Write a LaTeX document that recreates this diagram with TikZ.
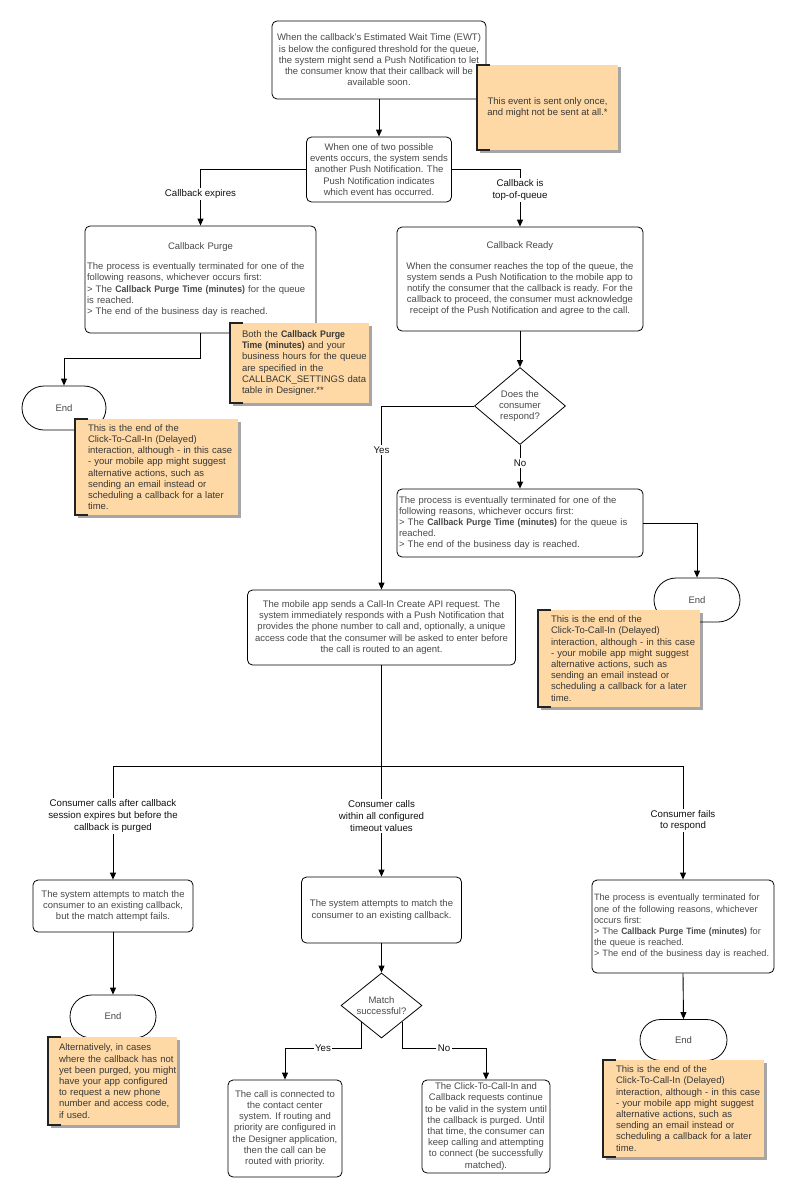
\documentclass[tikz,border=0pt]{standalone}
\usepackage{fontspec}
\setmainfont{Liberation Sans}[BoldFeatures={FakeStretch=0.92}]
\usetikzlibrary{arrows.meta,shapes.geometric,shapes.misc,shadows}
\definecolor{txt}{HTML}{4A4A4A}
\definecolor{lbltxt}{HTML}{111111}
\definecolor{notefill}{HTML}{FED9A6}
\definecolor{edgedark}{HTML}{222222}
\newcommand\bodyfont{\fontsize{9.5}{11.2}\selectfont}
\newcommand\looseright{\rightskip=-40pt plus 1fil\relax}
\newcommand\noteedge[1]{\draw[edgeline] ([xshift=13pt]#1.north west) -- (#1.north west) -- (#1.south west) -- ([xshift=13pt]#1.south west);}
\tikzset{
  box/.style={draw=black, rounded corners=5pt, line width=0.8pt, fill=white, text=txt,
    font=\bodyfont, align=center, inner sep=2pt},
  lbox/.style={box, align=left, text width=#1},
  note/.style={fill=notefill, text=txt!75!black, font=\bodyfont, align=left, inner sep=0pt,
    drop shadow={shadow xshift=2.5pt, shadow yshift=-2.5pt, opacity=0.35, fill=black}},
  edgeline/.style={draw=edgedark, line width=1.6pt},
  endbox/.style={draw=black, line width=0.8pt, fill=white, rounded rectangle, text=txt,
    font=\bodyfont, inner sep=0pt},
  decision/.style={draw=black, line width=0.8pt, fill=white, diamond, text=txt,
    font=\bodyfont, align=center, inner sep=0pt},
  conn/.style={draw=black, line width=0.9pt},
  arr/.style={conn, -{Triangle[length=7pt,width=6pt]}},
  lbl/.style={fill=white, text=lbltxt, font=\fontsize{9.7}{11.8}\selectfont, align=center, inner sep=1.5pt},
}
\begin{document}
\begin{tikzpicture}[x=1pt,y=-1pt]
\useasboundingbox[fill=white] (0,0) rectangle (796,1199);

% top boxes
\node[box, minimum width=214pt, minimum height=78pt] (b1) at (379,60)
 {When the callback's Estimated Wait Time (EWT)\\
  is below the configured threshold for the queue,\\
  the system might send a Push Notification to let\\
  the consumer know that their callback will be\\
  available soon.};
\node[note, align=center, minimum width=141pt, minimum height=85pt] (n1) at (547.5,107.5)
 {This event is sent only once,\\ and might not be sent at all.*};
\noteedge{n1}

\node[box, minimum width=145pt, minimum height=65pt] (b2) at (379,169.5)
 {When one of two possible\\
  events occurs, the system sends\\
  another Push Notification. The\\
  Push Notification indicates\\
  which event has occurred.};

% Callback purge
\node[lbox=227pt, minimum width=231pt, minimum height=107pt] (purge) at (200.5,279.5)
 {{\centering Callback Purge\par}\vspace{9pt}\looseright
  The process is eventually terminated for one of the\\
  following reasons, whichever occurs first:\\
  > The \textbf{Callback Purge Time (minutes)} for the queue\\
  is reached.\\
  > The end of the business day is reached.\par};

% Callback ready
\node[box, minimum width=246pt, minimum height=104pt] (ready) at (520,279)
 {Callback Ready\\[9pt]
  When the consumer reaches the top of the queue, the\\
  system sends a Push Notification to the mobile app to\\
  notify the consumer that the callback is ready. For the\\
  callback to proceed, the consumer must acknowledge\\
  receipt of the Push Notification and agree to the call.};

\node[endbox, minimum width=84pt, minimum height=44pt] (end1) at (64,408) {End};

\node[note, text width=115pt, minimum width=139pt, minimum height=80pt] (n2) at (299.5,363)
 {\looseright Both the \textbf{Callback Purge}\\
  \textbf{Time (minutes)} and your\\
  business hours for the queue\\
  are specified in the\\
  CALLBACK\_SETTINGS data\\
  table in Designer.**\par};
\noteedge{n2}

\node[note, text width=137pt, minimum width=163pt, minimum height=96pt] (n3) at (156.5,467)
 {\looseright This is the end of the\\
  Click-To-Call-In (Delayed)\\
  interaction, although - in this case\\
  - your mobile app might suggest\\
  alternative actions, such as\\
  sending an email instead or\\
  scheduling a callback for a later\\
  time.\par};
\noteedge{n3}

\node[decision, aspect=1.2, minimum width=91pt, minimum height=77pt] (d1) at (520,406)
 {Does the\\ consumer\\ respond?};

\node[lbox=242pt, minimum width=246pt, minimum height=68pt] (p2) at (520,523)
 {\looseright The process is eventually terminated for one of the\\
  following reasons, whichever occurs first:\\
  > The \textbf{Callback Purge Time (minutes)} for the queue is\\
  reached.\\
  > The end of the business day is reached.\par};

\node[endbox, minimum width=86pt, minimum height=44pt] (end2) at (697,600) {End};

\node[note, text width=136pt, minimum width=162pt, minimum height=97pt] (n4) at (619,658.5)
 {\looseright This is the end of the\\
  Click-To-Call-In (Delayed)\\
  interaction, although - in this case\\
  - your mobile app might suggest\\
  alternative actions, such as\\
  sending an email instead or\\
  scheduling a callback for a later\\
  time.\par};
\noteedge{n4}

\node[box, minimum width=268pt, minimum height=75pt] (main) at (381.5,627.5)
 {The mobile app sends a Call-In Create API request. The\\
  system immediately responds with a Push Notification that\\
  provides the phone number to call and, optionally, a unique\\
  access code that the consumer will be asked to enter before\\
  the call is routed to an agent.};

\coordinate (split) at (381.5,766);

% bottom row
\node[box, minimum width=160pt, minimum height=52pt] (lb) at (113,906)
 {The system attempts to match the\\
  consumer to an existing callback,\\
  but the match attempt fails.};
\node[box, minimum width=160pt, minimum height=66pt] (cb) at (381.5,910)
 {The system attempts to match the\\
  consumer to an existing callback.};
\node[lbox=178pt, minimum width=182pt, minimum height=93pt, font=\fontsize{9.2}{11.2}\selectfont] (rb) at (683,926.5)
 {\looseright The process is eventually terminated for\\
  one of the following reasons, whichever\\
  occurs first:\\
  > The \textbf{Callback Purge Time (minutes)} for\\
  the queue is reached.\\
  > The end of the business day is reached.\par};

\node[endbox, minimum width=86pt, minimum height=43pt] (end4) at (113,1016.5) {End};
\node[note, text width=107pt, minimum width=129pt, minimum height=88pt] (n5) at (112.5,1081)
 {\looseright Alternatively, in cases\\
  where the callback has not\\
  yet been purged, you might\\
  have your app configured\\
  to request a new phone\\
  number and access code,\\
  if used.\par};
\noteedge{n5}

\node[decision, aspect=1.25, minimum width=81pt, minimum height=65pt] (d2) at (381.5,1005.5)
 {Match\\ successful?};

\node[box, minimum width=114pt, minimum height=97pt] (yb) at (285,1128.5)
 {The call is connected to\\
  the contact center\\
  system. If routing and\\
  priority are configured in\\
  the Designer application,\\
  then the call can be\\
  routed with priority.};
\node[box, minimum width=128pt, minimum height=93pt] (nb) at (486,1126.5)
 {The Click-To-Call-In and\\
  Callback requests continue\\
  to be valid in the system until\\
  the callback is purged. Until\\
  that time, the consumer can\\
  keep calling and attempting\\
  to connect (be successfully\\
  matched).};

\node[endbox, minimum width=87pt, minimum height=41pt] (end3) at (683.5,1040) {End};
\node[note, text width=135pt, minimum width=161pt, minimum height=97pt] (n6) at (683.5,1108.5)
 {\looseright This is the end of the\\
  Click-To-Call-In (Delayed)\\
  interaction, although - in this case\\
  - your mobile app might suggest\\
  alternative actions, such as\\
  sending an email instead or\\
  scheduling a callback for a later\\
  time.\par};
\noteedge{n6}

% connectors
\draw[arr] (b1.south) -- (b2.north);
\draw[arr] (b2.west) -| node[lbl, pos=0.72] {Callback expires} (purge.north);
\draw[arr] (b2.east) -| node[lbl, pos=0.68] {Callback is\\top-of-queue} (ready.north);
\draw[arr] (purge.south) -- ++(0,25) -| (end1.north);
\draw[arr] (ready.south) -- (d1.north);
\draw[arr] (d1.west) -| node[lbl, pos=0.62] {Yes} (main.north);
\draw[arr] (d1.south) -- node[lbl, pos=0.42] {No} (p2.north);
\draw[arr] (p2.east) -| (end2.north);
\draw[conn] (main.south) -- (split);
\draw[arr] (split) -| node[lbl, pos=0.72] {Consumer calls after callback\\session expires but before the\\callback is purged} (lb.north);
\draw[arr] (split) -- node[lbl, pos=0.45] {Consumer calls\\within all configured\\timeout values} (cb.north);
\draw[arr] (split) -| node[lbl, pos=0.74] {Consumer fails\\to respond} (rb.north);
\draw[arr] (lb.south) -- (end4.north);
\draw[arr] (cb.south) -- (d2.north);
\draw[arr] (d2.south west) -- ++(0,26) -| node[lbl, pos=0.25] {Yes} (yb.north);
\draw[arr] (d2.south east) -- ++(0,26) -| node[lbl, pos=0.25] {No} (nb.north);
\draw[arr] (rb.south) -- (end3.north);
\end{tikzpicture}
\end{document}
